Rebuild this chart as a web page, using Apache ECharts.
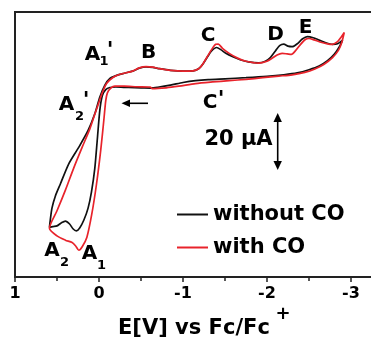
<!DOCTYPE html>
<html><head><meta charset="utf-8">
<script src="https://cdn.jsdelivr.net/npm/echarts@6/dist/echarts.min.js"></script>
<style>html,body{margin:0;padding:0;background:#fff;overflow:hidden;width:371px;height:344px}#c{width:438px;height:344px}</style>
</head><body><div id="c"></div>
<script>
// Potential (V vs Fc/Fc+) and current (µA), in scan order
const blackE = [-2.90,-2.86,-2.80,-2.72,-2.62,-2.50,-2.36,-2.20,-2.00,-1.75,-1.50,-1.30,-1.15,-1.00,-0.85,-0.70,-0.62,-0.50,-0.35,-0.20,-0.13,-0.08,-0.04,-0.01,0.02,0.05,0.09,0.13,0.18,0.23,0.27,0.31,0.35,0.40,0.45,0.50,0.55,0.59,
  0.58,0.56,0.52,0.46,0.36,0.24,0.13,0.05,-0.01,-0.07,-0.13,-0.21,-0.30,-0.40,-0.48,-0.56,-0.64,-0.72,-0.85,-1.00,-1.12,-1.19,-1.24,-1.29,-1.34,-1.40,-1.45,-1.51,-1.60,-1.68,-1.78,-1.90,-1.98,-2.04,-2.10,-2.15,-2.20,-2.25,-2.30,-2.36,-2.42,-2.48,-2.55,-2.62,-2.70,-2.78,-2.84,-2.90];
const blackI = [9.4,6.8,4.0,1.6,-0.4,-1.8,-3.0,-3.7,-4.3,-4.8,-5.2,-5.5,-5.9,-6.6,-7.6,-8.4,-8.7,-8.6,-8.5,-8.3,-8.5,-9.3,-11.5,-17,-28,-39,-48,-54,-58.5,-61.5,-62.6,-61.8,-60.0,-58.9,-59.6,-60.7,-61.0,-61.3,
  -58.5,-54,-49.5,-44.9,-37.3,-31.0,-24.7,-18.4,-12.1,-7.6,-5.1,-3.9,-3.1,-2.3,-1.2,-0.7,-0.9,-1.4,-2.0,-2.3,-2.2,-1.3,0.5,3.0,5.3,6.6,5.8,4.4,3.0,2.0,1.2,0.8,1.4,2.8,5.3,7.3,7.9,7.1,6.9,8.0,9.8,10.7,10.3,9.4,8.4,7.8,8.0,9.4];
const redE = [-2.92,-2.89,-2.85,-2.78,-2.68,-2.57,-2.45,-2.30,-2.14,-1.95,-1.75,-1.55,-1.35,-1.15,-0.95,-0.80,-0.63,-0.61,-0.45,-0.30,-0.19,-0.14,-0.10,-0.08,-0.06,-0.02,0.03,0.086,0.145,0.20,0.24,0.28,0.32,0.40,0.50,0.59,
  0.50,0.40,0.30,0.20,0.11,0.05,0.00,-0.04,-0.09,-0.17,-0.25,-0.40,-0.48,-0.56,-0.64,-0.72,-0.85,-1.00,-1.12,-1.19,-1.24,-1.29,-1.34,-1.39,-1.42,-1.47,-1.55,-1.65,-1.75,-1.90,-2.00,-2.06,-2.12,-2.18,-2.24,-2.29,-2.34,-2.40,-2.46,-2.50,-2.56,-2.63,-2.72,-2.78,-2.84,-2.88,-2.92];
const redI = [12.3,8.5,5.5,2.8,0.3,-1.5,-2.8,-3.7,-4.2,-4.8,-5.4,-5.9,-6.4,-7.0,-8.0,-8.6,-8.9,-8.3,-8.2,-8.0,-8.0,-8.7,-10.5,-13.5,-20,-32.3,-45,-56.3,-65.1,-68.6,-69.9,-68.2,-67.0,-66.1,-64.5,-61.6,
  -55.0,-47.2,-38.8,-31.0,-24.2,-18.6,-14.0,-10.4,-7.0,-4.6,-3.5,-2.3,-1.1,-0.6,-0.8,-1.4,-2.0,-2.3,-2.2,-1.3,0.6,3.2,5.8,7.8,7.9,6.3,4.4,2.6,1.4,0.7,1.4,2.5,3.8,4.4,4.2,4.0,5.4,7.8,9.7,10.0,9.5,8.7,8.0,7.8,8.8,10.4,12.3];
const seriesNames = ['without CO', 'with CO'];
const xTickLabels = ['1', '0', '-1', '-2', '-3'];
const axisTitle = 'E[V] vs Fc/Fc';
const scaleText = '20 µA';

const F = 'DejaVu Sans';
function txt(x, y, t, size, align) {
  return {type: 'text', x: x, y: y, z: 100,
    style: {text: t, fontFamily: F, fontWeight: 'bold', fontSize: size, fill: '#000',
      align: align || 'center', verticalAlign: 'middle'}};
}
const graphics = [
  txt(92.5, 54.5, 'A', 20), txt(104, 61.5, '1', 13), txt(110, 51, "'", 22),
  txt(148.5, 52.5, 'B', 20),
  txt(208, 35.5, 'C', 20),
  txt(275.5, 34.5, 'D', 20),
  txt(305.5, 27.5, 'E', 20),
  txt(210, 102.5, 'C', 20), txt(221, 100, "'", 22),
  txt(66.5, 105, 'A', 20), txt(79.5, 117, '2', 13), txt(86, 101, "'", 22),
  txt(52, 251, 'A', 20), txt(64.5, 263, '2', 13),
  txt(89.5, 254, 'A', 20), txt(101.5, 266, '1', 13),
  txt(238.5, 140, scaleText, 21),
  txt(118, 329, axisTitle, 21, 'left'),
  txt(283, 314, '+', 18),
  {type: 'line', z: 100, shape: {x1: 277.7, y1: 119, x2: 277.7, y2: 164}, style: {stroke: '#000', lineWidth: 1.6}},
  {type: 'polygon', z: 100, shape: {points: [[277.7, 113], [273.5, 122], [281.9, 122]]}, style: {fill: '#000'}},
  {type: 'polygon', z: 100, shape: {points: [[277.7, 170], [273.5, 161], [281.9, 161]]}, style: {fill: '#000'}},
  {type: 'line', z: 100, shape: {x1: 127, y1: 103.3, x2: 148, y2: 103.3}, style: {stroke: '#000', lineWidth: 1.6}},
  {type: 'polygon', z: 100, shape: {points: [[121.5, 103.3], [130, 99.5], [130, 107.1]]}, style: {fill: '#000'}}
];

const chart = echarts.init(document.getElementById('c'), null, {renderer: 'canvas'});
chart.setOption({
  animation: false,
  backgroundColor: '#fff',
  grid: {left: 15, right: 0, top: 12, bottom: 67, show: true, borderColor: '#222', borderWidth: 2, backgroundColor: 'transparent'},
  xAxis: {
    type: 'value', inverse: true, min: -4, max: 1, interval: 1,
    axisLine: {show: true, onZero: false, lineStyle: {color: '#222', width: 2}},
    axisTick: {show: true, length: 5, lineStyle: {color: '#222', width: 1.5}},
    minorTick: {show: true, splitNumber: 2, length: 4, lineStyle: {color: '#222', width: 1.5}},
    splitLine: {show: false},
    axisLabel: {margin: 9, fontFamily: F, fontWeight: 'bold', fontSize: 16, color: '#000',
      formatter: function (v) { const s = String(Math.round(v)); return xTickLabels.indexOf(s) >= 0 ? s : ''; }}
  },
  yAxis: {
    type: 'value', min: -80, max: 20,
    axisLine: {show: false}, axisTick: {show: false}, axisLabel: {show: false}, splitLine: {show: false}
  },
  legend: {
    orient: 'vertical', left: 172, top: 199, itemWidth: 31, itemHeight: 2, itemGap: 12, icon: 'rect',
    textStyle: {fontFamily: F, fontWeight: 'bold', fontSize: 21, color: '#000'},
    data: seriesNames
  },
  series: [
    {name: seriesNames[0], type: 'line', symbol: 'none', smooth: 0.25, z: 2,
      data: blackE.map((e, i) => [e, blackI[i]]),
      lineStyle: {color: '#111', width: 1.7}, itemStyle: {color: '#111'}},
    {name: seriesNames[1], type: 'line', symbol: 'none', smooth: 0.25, z: 3,
      data: redE.map((e, i) => [e, redI[i]]),
      lineStyle: {color: '#e8232b', width: 1.7}, itemStyle: {color: '#e8232b'}}
  ],
  graphic: graphics
});
</script></body></html>
